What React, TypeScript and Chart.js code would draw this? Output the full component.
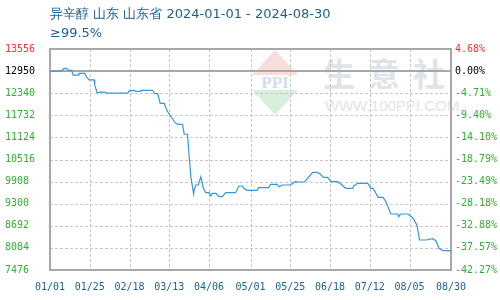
import React, { useEffect, useRef } from "react";
import { Chart, registerables } from "chart.js";

Chart.register(...registerables);

const titleLine1 = "异辛醇 山东 山东省 2024-01-01 - 2024-08-30";
const titleLine2 = "≥99.5%";

const xTickLabels = ["01/01", "01/25", "02/18", "03/13", "04/06", "05/01", "05/25", "06/18", "07/12", "08/05", "08/30"];
const yTickValues = [13556, 12950, 12340, 11732, 11124, 10516, 9908, 9300, 8692, 8084, 7476];
const rightTickLabels = ["4.68%", "0.00%", "-4.71%", "-9.40%", "-14.10%", "-18.79%", "-23.49%", "-28.18%", "-32.88%", "-37.57%", "-42.27%"];
const baseValue = 12950;

// day index from 2024-01-01
const dataDays = [
  0, 7, 8.5, 10, 11, 13, 14, 17, 17.5, 21, 22, 23.6, 26.6, 27, 28.5, 30, 33, 34, 47, 48, 51, 52, 54.5, 55, 62,
  63, 65, 66.5, 69, 70, 71.5, 74, 75.5, 77, 80, 81, 83, 84, 85, 86.7, 87, 88, 89.5, 91, 91.5, 92.5, 94, 96, 97,
  98, 100, 102, 104, 106, 112, 114, 116, 117, 119, 125, 126, 132, 133, 137, 138.5, 140, 145, 148, 150, 153, 154,
  158.5, 161.5, 163, 165, 167.5, 169.5, 173.5, 175.5, 178.5, 182.7, 183.3, 185.7, 191.8, 193.6, 195, 198, 201,
  202.7, 205.7, 210, 210.5, 211.7, 216, 219, 221.4, 223, 227, 231, 233, 234.7, 237, 240, 242,
];
const dataValues = [
  12950, 12950, 13025, 13025, 12970, 12970, 12840, 12840, 12885, 12885, 12790, 12705, 12705, 12560, 12345, 12370,
  12370, 12340, 12340, 12410, 12410, 12390, 12390, 12420, 12420,
  12330, 12330, 12060, 12060, 11925, 11790, 11630, 11530, 11485, 11485, 11210, 11210, 10600, 10035, 9567, 9677,
  9815, 9815, 10043, 9950, 9730, 9603, 9603, 9512,
  9586, 9586, 9493, 9493, 9603, 9603, 9787, 9787, 9720, 9669, 9669, 9740, 9740, 9833, 9833, 9768, 9815, 9815,
  9905, 9897, 9897, 9920,
  10160, 10160, 10117, 10026, 10026, 9905, 9905, 9842, 9723, 9723, 9787, 9860, 9860, 9723, 9723, 9476, 9476,
  9356, 9017, 9017, 8943, 9017, 9017, 8907, 8714, 8301, 8301, 8337, 8274, 8073, 8007, 8007, 8000,
];

const dayOf = (label: string) => {
  const [m, d] = label.split("/").map(Number);
  return Math.round((Date.UTC(2024, m - 1, d) - Date.UTC(2024, 0, 1)) / 86400000);
};
const xTickDays = xTickLabels.map(dayOf);

const GREEN = "#33b033";
const RED = "#ff3333";
const tickColor = (i: number) => (i === 0 ? RED : i === 1 ? "#000000" : GREEN);
const TICK_FONT = { family: "'DejaVu Sans Mono'", size: 10 };

function Watermark() {
  return (
    <div style={{ position: "absolute", left: 0, top: 0, width: 500, height: 300, zIndex: 0, pointerEvents: "none" }}>
      <div
        style={{
          position: "absolute", left: 252, top: 50, width: 0, height: 0,
          borderLeft: "23px solid transparent", borderRight: "23px solid transparent",
          borderBottom: "25px solid rgba(240,180,170,0.45)",
        }}
      />
      <div
        style={{
          position: "absolute", left: 252, top: 90, width: 0, height: 0,
          borderLeft: "23px solid transparent", borderRight: "23px solid transparent",
          borderTop: "25px solid rgba(170,220,180,0.45)",
        }}
      />
      <div
        style={{
          position: "absolute", left: 246, top: 74, width: 58, textAlign: "center",
          font: "bold 17px 'Liberation Serif'", lineHeight: "17px", color: "rgba(190,205,225,0.7)",
        }}
      >
        PPI
      </div>
      <div
        style={{
          position: "absolute", left: 323, top: 52, whiteSpace: "nowrap",
          font: "bold 32px 'Noto Sans CJK SC'", lineHeight: "40px", letterSpacing: "13px", color: "#dfe3ea",
        }}
      >
        生意社
      </div>
      <div
        style={{
          position: "absolute", left: 325, top: 97, whiteSpace: "nowrap",
          font: "15px 'Liberation Sans'", lineHeight: "17px", color: "#dfe3ea",
        }}
      >
        WWW.100PPI.COM
      </div>
    </div>
  );
}

function drawFrame(chart: any) {
  const { ctx, chartArea: a } = chart;
  const y = chart.scales.y;
  const x = chart.scales.x;
  const L = Math.round(a.left), R = Math.round(a.right), T = Math.round(a.top), B = Math.round(a.bottom);
  ctx.fillStyle = "#c8c8c8";
  xTickDays.forEach((d) => {
    const px = Math.round(x.getPixelForValue(d));
    for (let yy = T; yy < B; yy += 5) ctx.fillRect(px, yy, 1, Math.min(3, B - yy));
  });
  yTickValues.forEach((v) => {
    const py = Math.round(y.getPixelForValue(v));
    for (let xx = L; xx < R; xx += 5) ctx.fillRect(xx, py, Math.min(3, R - xx), 1);
  });
  ctx.fillStyle = "#a8a8a8";
  const yb = Math.round(y.getPixelForValue(baseValue));
  ctx.fillRect(L, yb - 1, R - L, 2);
  ctx.fillRect(L - 1, T - 1, R - L + 2, 2);
  ctx.fillRect(L - 1, B - 1, R - L + 2, 2);
  ctx.fillRect(L - 1, T - 1, 2, B - T + 2);
  ctx.fillRect(R - 1, T - 1, 2, B - T + 2);
}

export default function App() {
  const ref = useRef<HTMLCanvasElement | null>(null);

  useEffect(() => {
    if (!ref.current) return;

    const decor = {
      id: "decor",
      beforeDatasetsDraw(chart: any) {
        chart.ctx.save();
        drawFrame(chart);
        chart.ctx.restore();
      },
      afterDraw(chart: any) {
        const { ctx } = chart;
        ctx.save();
        // frame again, placed underneath everything already drawn
        ctx.globalCompositeOperation = "destination-over";
        drawFrame(chart);
        ctx.globalCompositeOperation = "source-over";
        ctx.fillStyle = "#1d5f8f";
        ctx.font = "13px 'DejaVu Sans'";
        ctx.textBaseline = "middle";
        ctx.textAlign = "left";
        ctx.fillText(titleLine1, 50, 15);
        ctx.fillText(titleLine2, 50, 34);
        ctx.restore();
      },
    };

    const chart = new Chart(ref.current, {
      type: "line",
      data: {
        datasets: [
          {
            data: dataDays.map((d, i) => ({ x: d, y: dataValues[i] })),
            borderColor: "#3598dc",
            borderWidth: 1.2,
            pointRadius: 0,
            tension: 0,
            fill: false,
          },
        ],
      },
      options: {
        animation: false,
        responsive: false,
        maintainAspectRatio: false,
        layout: { padding: { left: 5, right: 0, top: 49, bottom: 0 } },
        plugins: { legend: { display: false }, tooltip: { enabled: false }, title: { display: false } },
        scales: {
          x: {
            type: "linear",
            min: 0,
            max: xTickDays[xTickDays.length - 1],
            afterBuildTicks: (s: any) => { s.ticks = xTickDays.map((v) => ({ value: v })); },
            afterFit: (s: any) => { s.height = 30; },
            ticks: { autoSkip: false, maxRotation: 0, padding: 11, color: "#1d5f8f", font: TICK_FONT, callback: (_v: any, i: number) => xTickLabels[i] },
            grid: { display: false, tickLength: 0 },
            border: { display: false },
          },
          y: {
            type: "linear",
            position: "left",
            min: yTickValues[yTickValues.length - 1],
            max: yTickValues[0],
            afterBuildTicks: (s: any) => { s.ticks = yTickValues.map((v) => ({ value: v })); },
            afterFit: (s: any) => { s.width = 45; },
            ticks: { autoSkip: false, crossAlign: "far", padding: 4, color: (c: any) => tickColor(c.index), font: TICK_FONT, callback: (v: any) => String(v) },
            grid: { display: false, tickLength: 0 },
            border: { display: false },
          },
          y2: {
            type: "linear",
            position: "right",
            min: yTickValues[yTickValues.length - 1],
            max: yTickValues[0],
            afterBuildTicks: (s: any) => { s.ticks = yTickValues.map((v) => ({ value: v })); },
            afterFit: (s: any) => { s.width = 49; },
            ticks: { autoSkip: false, padding: 4, color: (c: any) => tickColor(c.index), font: TICK_FONT, callback: (v: any) => rightTickLabels[yTickValues.indexOf(v)] },
            grid: { display: false, tickLength: 0 },
            border: { display: false },
          },
        },
      } as any,
      plugins: [decor],
    });
    return () => chart.destroy();
  }, []);

  return (
    <div style={{ position: "fixed", left: 0, top: 0, width: 500, height: 300, background: "#fff" }}>
      <Watermark />
      <canvas
        ref={ref}
        width={500}
        height={300}
        style={{ position: "absolute", left: 0, top: 0, width: 500, height: 300, zIndex: 1 }}
      />
    </div>
  );
}
